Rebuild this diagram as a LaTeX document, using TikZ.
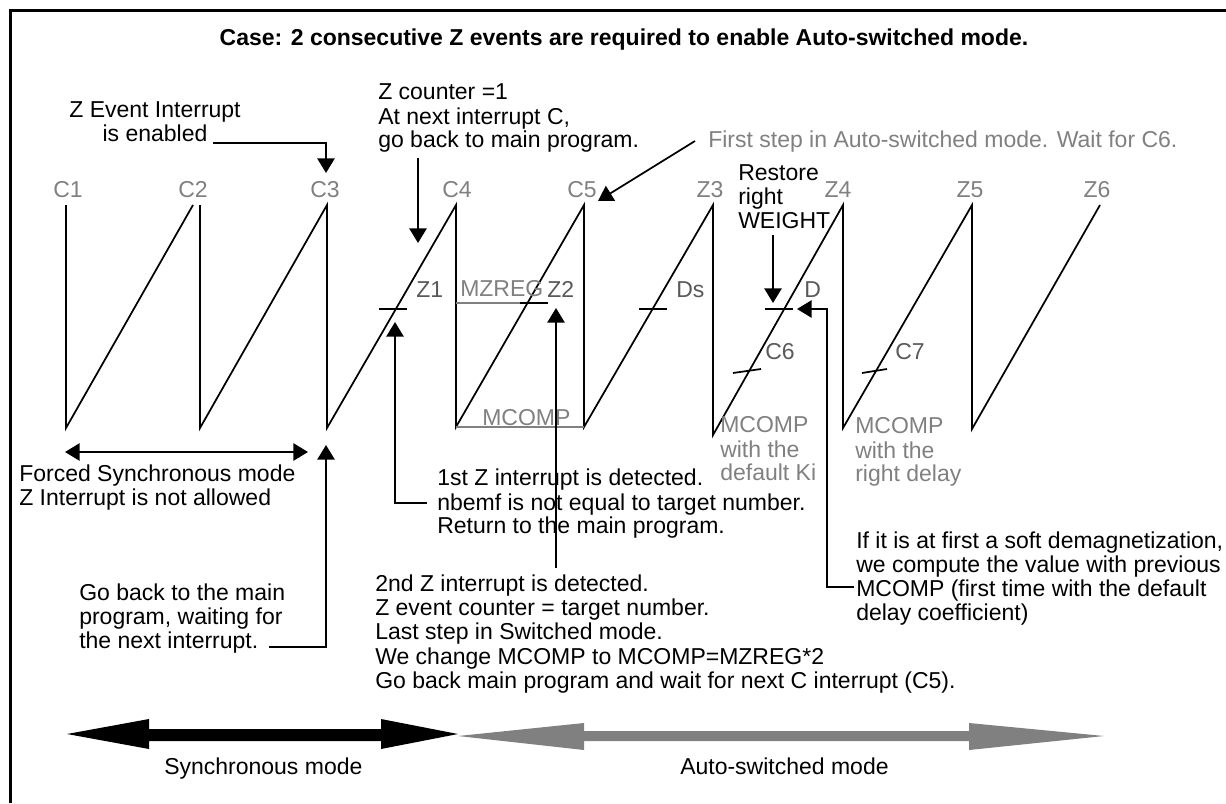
\documentclass[tikz,border=0pt]{standalone}
\usepackage{fontspec}
\setmainfont{Liberation Sans}
\usetikzlibrary{arrows.meta}
\definecolor{lbl}{HTML}{808080}
\definecolor{mark}{HTML}{595959}
\begin{document}
\begin{tikzpicture}[x=0.75pt,y=-0.75pt,
  every node/.style={inner sep=0pt, font=\fontsize{17.25}{18}\selectfont},
  txt/.style={anchor=north west, align=left},
  wave/.style={line width=1.3pt, line join=miter},
  lead/.style={line width=1.3pt},
  conn/.style={line width=1.3pt, -{Triangle[length=11pt,width=13pt]}},
  tick/.style={line width=1.3pt},
  guide/.style={line width=1.3pt, draw=lbl},
  glbl/.style={text=lbl, anchor=base},
  mlbl/.style={text=mark, anchor=base west},
]
\useasboundingbox (0,0) rectangle (1226,803);

% frame (top and left edges)
\draw[line width=2pt] (1226,10.5) -- (10.5,10.5) -- (10.5,803);

% title
\node[font=\fontsize{17.25}{18}\selectfont\bfseries, anchor=base] (title) at (624,45)
  {Case: 2 consecutive Z events are required to enable Auto-switched mode.};

% sawtooth signal
\coordinate (c1t) at (66,205);   \coordinate (c1b) at (66,428);
\coordinate (c2r) at (193,205);
\coordinate (c2t) at (200,205);  \coordinate (c2b) at (200,428);
\coordinate (c3t) at (327,205);  \coordinate (c3b) at (327,428);
\coordinate (c4t) at (456,205);  \coordinate (c4b) at (456,427);
\coordinate (c5t) at (584,205);  \coordinate (c5b) at (584,427);
\coordinate (z3t) at (713,205);  \coordinate (z3b) at (713,435);
\coordinate (z4t) at (843,205);  \coordinate (z4b) at (843,428);
\coordinate (z5t) at (972,205);  \coordinate (z5b) at (972,429);
\coordinate (z6t) at (1100,205);
\draw[wave] (c1t) -- (c1b) -- (c2r);
\draw[wave] (c2t) -- (c2b) -- (c3t) -- (c3b) -- (c4t) -- (c4b) -- (c5t) -- (c5b)
  -- (z3t) -- (z3b) -- (z4t) -- (z4b) -- (z5t) -- (z5b) -- (z6t);

% event labels above the peaks
\node[glbl] (lc1) at (68,197) {C1};
\node[glbl] (lc2) at (193,197) {C2};
\node[glbl] (lc3) at (325,197) {C3};
\node[glbl] (lc4) at (457,197) {C4};
\node[glbl] (lc5) at (582,197) {C5};
\node[glbl] (lz3) at (710,197) {Z3};
\node[glbl] (lz4) at (838,197) {Z4};
\node[glbl] (lz5) at (970,197) {Z5};
\node[glbl] (lz6) at (1097,197) {Z6};

% MZREG / MCOMP levels
\draw[guide] (456,303) -- (520,303);
\draw[guide] (c4b) -- (c5b);
\node[text=lbl, anchor=base west] (mzreg) at (460,296) {MZREG};
\node[text=lbl, anchor=base west] (mcomp) at (482,425) {MCOMP};

% threshold marks on the ramps
\draw[tick] (379,309) -- (407,309);
\draw[tick] (520,303) -- (548,303);
\draw[tick] (639,309) -- (667,309);
\draw[tick] (765,309) -- (793,309);
\draw[tick] (733,373) -- (761,369);
\draw[tick] (862,373) -- (887,369);
\node[mlbl] (lz1) at (416,297) {Z1};
\node[mlbl] (lz2) at (547,297) {Z2};
\node[mlbl] (lds) at (676,297) {Ds};
\node[mlbl] (ld) at (804,297) {D};
\node[mlbl] (lc6) at (765,359) {C6};
\node[mlbl] (lc7) at (895,359) {C7};

% annotations
\node[align=center, anchor=north] (evt) at (155,100.2)
  {\strut Z Event Interrupt\\is enabled};
\node[txt, font=\fontsize{17.25}{17.25}\selectfont] (zc) at (378,82.9)
  {\strut Z counter =1\\At next interrupt C,\\go back to main program.};
\node[text=lbl, anchor=base west] (first) at (708,147)
  {First step in Auto-switched mode. Wait for C6.};
\node[txt] (restore) at (738,163.2) {\strut Restore\\right\\WEIGHT};
\node[txt] (forced) at (19,464.2)
  {\strut Forced Synchronous mode\\Z Interrupt is not allowed};
\node[txt, font=\fontsize{17.25}{17.6}\selectfont] (firstz) at (437,468.2)
  {\strut 1st Z interrupt is detected.\\nbemf is not equal to target number.\\Return to the main program.};
\node[txt] (goback) at (79,583.2)
  {\strut Go back to the main\\program, waiting for\\the next interrupt.};
\node[txt, font=\fontsize{17.25}{18.2}\selectfont] (second) at (375,574.2)
  {\strut 2nd Z interrupt is detected.\\Z event counter = target number.\\Last step in Switched mode.\\We change MCOMP to MCOMP=MZREG*2\\Go back main program and wait for next C interrupt (C5).};
\node[txt, text=lbl, font=\fontsize{17.25}{17.25}\selectfont] (mki) at (720,415.9)
  {\strut MCOMP\\with the\\default Ki};
\node[txt, text=lbl, font=\fontsize{17.25}{17.25}\selectfont] (mdl) at (855,416.9)
  {\strut MCOMP\\with the\\right delay};
\node[txt] (soft) at (856,531.2)
  {\strut If it is at first a soft demagnetization,\\we compute the value with previous\\MCOMP (first time with the default\\delay coefficient)};

% connectors
\coordinate (evtA) at (213,143);   \coordinate (evtB) at (326,173);
\draw[conn] (evtA) -| (evtB);
\coordinate (zcA) at (418,158);    \coordinate (zcB) at (418,243);
\draw[conn] (zcA) -- (zcB);
\coordinate (fsA) at (695,141);    \coordinate (fsB) at (598,201);
\draw[conn] (fsA) -- (fsB);
\coordinate (rsA) at (773,235);    \coordinate (rsB) at (773,303);
\draw[conn] (rsA) -- (rsB);
\coordinate (z1A) at (427,503);    \coordinate (z1B) at (395,322);
\draw[conn] (z1A) -| (z1B);
\coordinate (z2A) at (556,568);    \coordinate (z2B) at (556,308);
\draw[conn] (z2A) -- (z2B);
\coordinate (gbA) at (269,647);    \coordinate (gbB) at (326,445);
\draw[conn] (gbA) -| (gbB);
\coordinate (fmA) at (65,452);     \coordinate (fmB) at (308,452);
\draw[line width=1.3pt, {Triangle[length=11pt,width=13pt]}-{Triangle[length=11pt,width=13pt]}] (fmA) -- (fmB);
\coordinate (dA) at (854,587);     \coordinate (dK) at (827,309);   \coordinate (dB) at (797,309);
\draw[conn] (dA) -| (dK) -- (dB);

% operating mode bars
\fill[lbl] (458,736) -- (584,723) -- (584,731) -- (969,731) -- (969,723) -- (1104,736)
  -- (969,750) -- (969,741) -- (584,741) -- (584,750) -- cycle;
\fill[black] (67,734) -- (149,719) -- (149,729) -- (381,729) -- (381,719) -- (458,734)
  -- (381,749) -- (381,741) -- (149,741) -- (149,749) -- cycle;
\node[anchor=base west] (sync) at (164,774) {Synchronous mode};
\node[anchor=base west] (auto) at (680,774) {Auto-switched mode};
\end{tikzpicture}
\end{document}
